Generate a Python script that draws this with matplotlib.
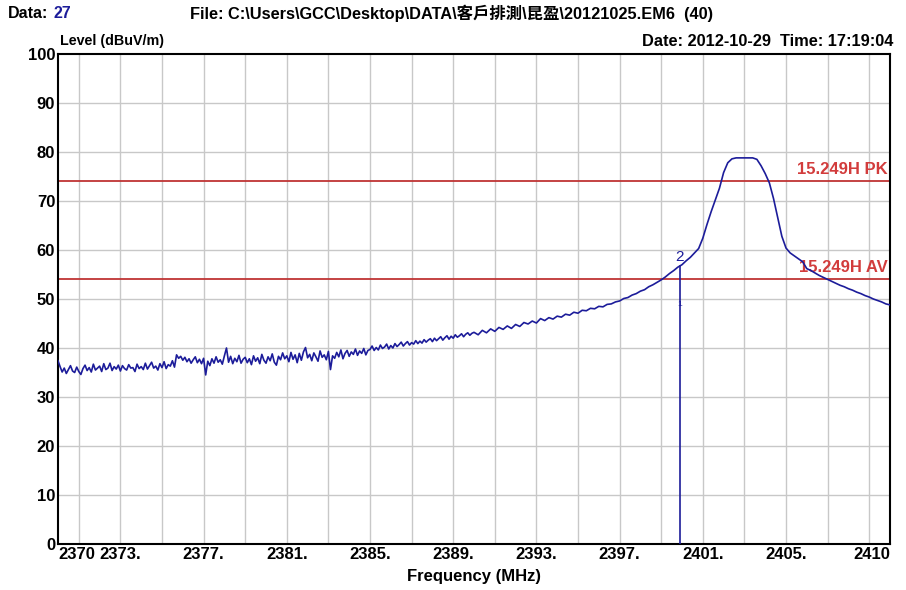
import matplotlib
matplotlib.use("Agg")
import matplotlib.pyplot as plt
import numpy as np

plt.rcParams['font.family'] = ['Liberation Sans', 'Noto Sans CJK TC', 'DejaVu Sans']

# Scan data, level in dBuV/m
# 2370-2390 MHz, 0.1 MHz step (noise floor region)
low_start, low_step = 2370.0, 0.1
level_low = [
    37.4, 36.2, 35.1, 35.9, 34.8, 35.6, 36.4, 35.3, 35.0, 36.1,
    35.2, 34.6, 35.8, 36.5, 35.4, 36.0, 35.1, 36.7, 35.5, 35.9,
    36.3, 35.2, 36.8, 35.6, 35.9, 36.9, 35.4, 36.2, 35.7, 36.5,
    35.3, 36.4, 35.8, 35.5, 36.6, 35.9, 36.0, 35.2, 36.7, 35.8,
    36.2, 35.6, 36.9, 35.7, 36.4, 37.1, 35.9, 36.3, 35.5, 36.8,
    36.0, 37.2, 35.8, 36.6, 36.3, 37.4, 36.1, 38.6, 37.9, 38.3,
    37.5, 38.1, 37.2, 37.8, 36.9, 37.6, 38.2, 37.0, 37.7, 36.8,
    37.9, 34.5, 37.3, 36.4, 37.8, 36.9, 38.2, 37.1, 37.6, 36.7,
    38.4, 40.0, 37.1, 38.3, 36.8, 37.9, 37.2, 38.5, 36.9, 37.7,
    38.1, 37.0, 37.8, 36.6, 38.4, 37.3, 38.0, 36.8, 38.7, 37.5,
    36.9, 38.2, 37.4, 38.8, 37.1, 36.5, 38.3, 37.6, 39.0, 37.8,
    38.4, 37.2, 39.1, 37.7, 38.6, 37.0, 38.9, 37.5, 39.2, 40.1,
    38.0, 38.7, 37.4, 39.0, 38.2, 37.3, 39.4, 38.1, 38.6, 37.6,
    39.3, 35.6, 38.4, 37.9, 39.1, 38.2, 39.6, 37.8, 38.9, 39.5,
    38.3, 39.2, 38.7, 39.8, 38.5, 39.4, 38.9, 39.9, 38.6, 39.5,
    39.7, 40.4, 39.5, 40.1, 39.6, 40.6, 39.9, 40.2, 40.8, 39.8,
    40.5, 40.0, 40.9, 40.3, 40.7, 41.2, 40.4, 40.9, 41.3, 40.6,
    41.1, 40.8, 41.5, 40.9, 41.4, 41.0, 41.7, 41.2, 41.6, 41.9,
    41.3, 42.0, 41.5, 41.9, 42.3, 41.6, 42.1, 42.5, 41.8, 42.4,
    42.0, 42.7, 42.2, 42.5, 42.9, 42.3, 42.8, 43.1, 42.6, 43.0,
]
# 2390-2410 MHz, 0.2 MHz step (carrier region)
high_start, high_step = 2390.0, 0.2
level_high = [
    43.2, 42.7, 43.6, 43.1, 43.9, 43.4, 44.2, 43.8, 44.5, 44.0,
    44.8, 44.4, 45.2, 44.9, 45.5, 45.1, 46.0, 45.6, 46.2, 45.9,
    46.5, 46.3, 46.9, 46.7, 47.3, 47.1, 47.7, 47.6, 48.1, 48.0,
    48.5, 48.4, 48.9, 49.0, 49.4, 49.6, 50.1, 50.3, 50.8, 51.1,
    51.6, 51.9, 52.5, 52.9, 53.4, 53.9, 54.5, 55.2, 55.8, 56.5,
    57.0, 57.8, 58.5, 59.4, 60.3, 62.4, 65.2, 67.8, 70.2, 72.6,
    75.8, 77.8, 78.6, 78.8, 78.8, 78.8, 78.8, 78.8, 78.5, 77.2,
    75.6, 73.7, 70.5, 66.6, 62.8, 60.4, 59.4, 58.8, 58.2, 57.6,
    56.2, 55.8, 55.3, 54.8, 54.4, 54.0, 53.6, 53.2, 52.8, 52.5,
    52.1, 51.8, 51.4, 51.1, 50.7, 50.4, 50.0, 49.7, 49.4, 49.0,
    48.8,
]
freq = np.concatenate([low_start + low_step * np.arange(len(level_low)),
                       high_start + high_step * np.arange(len(level_high))])
level = np.array(level_low + level_high)

# Limit lines
limit_names = ['15.249H PK', '15.249H AV']
limit_values = [74, 54]

# Marker 2
marker_freq = 2399.9
marker_level = 56.8
marker_label = '2'

xtick_pos = [2370, 2373, 2377, 2381, 2385, 2389, 2393, 2397, 2401, 2405, 2410]
xtick_lbl = ['2370', '2373.', '2377.', '2381.', '2385.', '2389.', '2393.', '2397.', '2401.', '2405.', '2410']
ytick_pos = list(range(0, 101, 10))

navy = '#1c1c9a'
red_line = '#bf3434'
red_txt = '#d23c3c'

fig = plt.figure(figsize=(9.06, 5.90), dpi=100)
W, H = 906, 590
ax = fig.add_axes([58 / W, 46 / H, 832 / W, 490 / H])

ax.set_xlim(2370, 2410)
ax.set_ylim(0, 100)

# grid on odd MHz and every 10 dB
for gx in range(2371, 2410, 2):
    ax.axvline(gx, color='#c8c8c8', lw=1, zorder=1)
for gy in range(10, 100, 10):
    ax.axhline(gy, color='#c8c8c8', lw=1, zorder=1)

for v in limit_values:
    ax.axhline(v, color=red_line, lw=1.3, zorder=2)
for name, v in zip(limit_names, limit_values):
    ax.text(2409.9, v + 1.0, name, color=red_txt, fontsize=12, fontweight='bold',
            ha='right', va='bottom', zorder=3)

ax.plot(freq, level, color=navy, lw=1.2, zorder=4)

# marker
ax.plot([marker_freq, marker_freq], [0, marker_level], color=navy, lw=1.2, zorder=4)
ax.text(marker_freq, marker_level + 0.3, marker_label, color=navy, fontsize=11,
        ha='center', va='bottom', zorder=5)
ax.text(marker_freq, 48.8, '1', color=navy, fontsize=6, ha='center', va='center', zorder=5)

ax.set_xticks(xtick_pos)
ax.set_xticklabels(xtick_lbl, fontsize=12, fontweight='bold')
ax.set_yticks(ytick_pos)
ax.set_yticklabels([str(v) for v in ytick_pos], fontsize=12, fontweight='bold')
ax.tick_params(length=0, pad=2)
ax.get_xticklabels()[0].set_ha('left')
ax.get_xticklabels()[-1].set_ha('right')
for s in ax.spines.values():
    s.set_linewidth(1.5)
    s.set_color('black')

ax.set_xlabel('Frequency (MHz)', fontsize=12, fontweight='bold', labelpad=5)

# header texts
fig.text(8 / W, 1 - 13 / H, 'Data:', fontsize=11.5, fontweight='bold', va='center', ha='left')
fig.text(54 / W, 1 - 13 / H, '27', fontsize=11.5, fontweight='bold', color=navy, va='center', ha='left')
fig.text(190 / W, 1 - 13 / H, 'File: C:\\Users\\GCC\\Desktop\\DATA\\客戶排測\\昆盈\\20121025.EM6  (40)',
         fontsize=11.8, fontweight='bold', va='center', ha='left')
fig.text(60 / W, 1 - 41 / H, 'Level (dBuV/m)', fontsize=10.3, fontweight='bold', va='center', ha='left')
fig.text(893 / W, 1 - 41 / H, 'Date: 2012-10-29  Time: 17:19:04', fontsize=11.8, fontweight='bold',
         va='center', ha='right')

fig.savefig('out.png', dpi=100, facecolor='white')
